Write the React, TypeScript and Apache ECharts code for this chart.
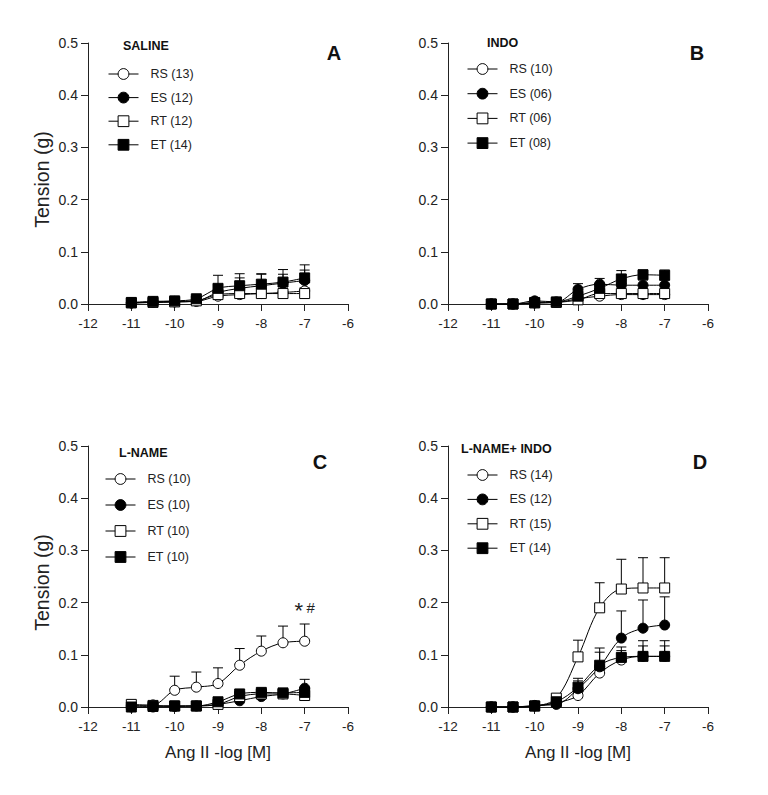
import React, { useEffect, useRef } from 'react';
import * as echarts from 'echarts';

// Ang II concentrations (-log M)
const doses = [-11, -10.5, -10, -9.5, -9, -8.5, -8, -7.5, -7];

// Panel A: SALINE
const salineRS = [0.002, 0.003, 0.004, 0.005, 0.015, 0.018, 0.02, 0.022, 0.025];
const salineRSErr = [0.001, 0.001, 0.001, 0.002, 0.005, 0.006, 0.006, 0.006, 0.006];
const salineES = [0.002, 0.004, 0.005, 0.006, 0.022, 0.03, 0.035, 0.04, 0.045];
const salineESErr = [0.001, 0.001, 0.001, 0.002, 0.01, 0.02, 0.022, 0.017, 0.02];
const salineRT = [0.002, 0.003, 0.004, 0.006, 0.018, 0.02, 0.02, 0.02, 0.02];
const salineRTErr = [0.001, 0.001, 0.001, 0.002, 0.004, 0.005, 0.005, 0.005, 0.005];
const salineET = [0.003, 0.005, 0.006, 0.01, 0.03, 0.035, 0.038, 0.042, 0.05];
const salineETErr = [0.001, 0.001, 0.002, 0.004, 0.025, 0.023, 0.02, 0.024, 0.025];

// Panel B: INDO
const indoRS = [0, 0, 0.002, 0.003, 0.01, 0.015, 0.018, 0.018, 0.018];
const indoRSErr = [0, 0, 0.001, 0.001, 0.004, 0.005, 0.005, 0.005, 0.005];
const indoES = [0, 0, 0.006, 0.004, 0.028, 0.038, 0.036, 0.036, 0.036];
const indoESErr = [0, 0, 0.002, 0.002, 0.011, 0.011, 0.01, 0.01, 0.01];
const indoRT = [0, 0, 0.002, 0.003, 0.008, 0.02, 0.02, 0.02, 0.02];
const indoRTErr = [0, 0, 0.001, 0.001, 0.003, 0.004, 0.004, 0.004, 0.004];
const indoET = [0, 0, 0.003, 0.004, 0.015, 0.03, 0.048, 0.056, 0.055];
const indoETErr = [0, 0, 0.001, 0.002, 0.006, 0.01, 0.016, 0.009, 0.01];

// Panel C: L-NAME
const lnameRS = [0.003, 0.004, 0.032, 0.038, 0.045, 0.08, 0.107, 0.123, 0.126];
const lnameRSErr = [0.002, 0.002, 0.027, 0.029, 0.03, 0.032, 0.029, 0.032, 0.033];
const lnameES = [0, 0, 0.001, 0.002, 0.005, 0.012, 0.02, 0.025, 0.036];
const lnameESErr = [0, 0, 0, 0, 0.003, 0.006, 0.006, 0.008, 0.017];
const lnameRT = [0.005, 0.003, 0.002, 0.002, 0.005, 0.02, 0.025, 0.025, 0.022];
const lnameRTErr = [0.001, 0.001, 0.001, 0.001, 0.002, 0.004, 0.004, 0.004, 0.004];
const lnameET = [0, 0.001, 0.002, 0.002, 0.01, 0.025, 0.028, 0.027, 0.028];
const lnameETErr = [0, 0, 0, 0, 0.003, 0.005, 0.005, 0.005, 0.005];

// Panel D: L-NAME + INDO
const lnameIndoRS = [0, 0, 0.002, 0.008, 0.022, 0.065, 0.09, 0.097, 0.097];
const lnameIndoRSErr = [0, 0, 0.001, 0.003, 0.01, 0.015, 0.018, 0.02, 0.02];
const lnameIndoES = [0, 0, 0.003, 0.005, 0.035, 0.077, 0.132, 0.151, 0.157];
const lnameIndoESErr = [0, 0, 0.002, 0.004, 0.02, 0.028, 0.052, 0.054, 0.054];
const lnameIndoRT = [0, 0, 0.002, 0.017, 0.096, 0.19, 0.226, 0.228, 0.228];
const lnameIndoRTErr = [0, 0, 0.002, 0.005, 0.032, 0.048, 0.057, 0.058, 0.058];
const lnameIndoET = [0, 0, 0.002, 0.01, 0.038, 0.08, 0.095, 0.097, 0.097];
const lnameIndoETErr = [0, 0, 0.001, 0.004, 0.012, 0.033, 0.02, 0.03, 0.03];

const panelTitles = ['SALINE', 'INDO', 'L-NAME', 'L-NAME+ INDO'];
const panelLetters = ['A', 'B', 'C', 'D'];
const groupKeys = ['RS', 'ES', 'RT', 'ET'];
const groupCounts = [
  ['13', '12', '12', '14'],
  ['10', '06', '06', '08'],
  ['10', '10', '10', '10'],
  ['14', '12', '15', '14'],
];
const panelValues = [
  [salineRS, salineES, salineRT, salineET],
  [indoRS, indoES, indoRT, indoET],
  [lnameRS, lnameES, lnameRT, lnameET],
  [lnameIndoRS, lnameIndoES, lnameIndoRT, lnameIndoET],
];
const panelErrors = [
  [salineRSErr, salineESErr, salineRTErr, salineETErr],
  [indoRSErr, indoESErr, indoRTErr, indoETErr],
  [lnameRSErr, lnameESErr, lnameRTErr, lnameETErr],
  [lnameIndoRSErr, lnameIndoESErr, lnameIndoRTErr, lnameIndoETErr],
];
const yTickLabels = ['0.0', '0.1', '0.2', '0.3', '0.4', '0.5'];
const xAxisTitle = 'Ang II -log [M]';
const yAxisTitle = 'Tension (g)';

// layout
const grids = [
  { left: 88, top: 43, width: 260, height: 261 },
  { left: 448, top: 43, width: 260, height: 261 },
  { left: 88, top: 446, width: 260, height: 261 },
  { left: 448, top: 446, width: 260, height: 261 },
];
const legendPos = [
  { left: 103, top: 62, gap: 9.6 },
  { left: 462, top: 57, gap: 10.7 },
  { left: 100, top: 467, gap: 12 },
  { left: 462, top: 463, gap: 10.4 },
];
const titlePos = [
  { x: 123, y: 46 },
  { x: 487, y: 43 },
  { x: 119, y: 453 },
  { x: 461, y: 449 },
];
const letterPos = [
  { x: 334, y: 53 },
  { x: 697, y: 53 },
  { x: 320, y: 462 },
  { x: 700, y: 462 },
];

const symbolFor = (k: string) => (k === 'RS' || k === 'ES' ? 'circle' : 'rect');
const fillFor = (k: string) => (k === 'RS' || k === 'RT' ? '#ffffff' : '#000000');

export default function App() {
  const ref = useRef<HTMLDivElement>(null);
  useEffect(() => {
    if (!ref.current) return;
    const chart = echarts.init(ref.current, undefined, { renderer: 'svg' });
    const font = 'Arial, "Liberation Sans", Helvetica, sans-serif';
    const axisColor = '#222';

    const xAxes: any[] = [];
    const yAxes: any[] = [];
    const series: any[] = [];
    const legends: any[] = [];
    const graphics: any[] = [];

    grids.forEach((g, p) => {
      xAxes.push({
        type: 'value', gridIndex: p, min: -12, max: -6, interval: 1,
        name: p >= 2 ? xAxisTitle : '', nameLocation: 'middle', nameGap: 37,
        nameTextStyle: { fontSize: 17, color: '#222', fontFamily: font },
        axisLine: { onZero: false, lineStyle: { color: axisColor, width: 1 } },
        axisTick: { show: true, length: 7, lineStyle: { color: axisColor } },
        axisLabel: { fontSize: 13.5, color: '#222', margin: 12, fontFamily: font },
        splitLine: { show: false },
      });
      yAxes.push({
        type: 'value', gridIndex: p, min: 0, max: 0.5, interval: 0.1,
        axisLine: { show: true, onZero: false, lineStyle: { color: axisColor, width: 1 } },
        axisTick: { show: true, length: 7, lineStyle: { color: axisColor } },
        axisLabel: {
          fontSize: 14, color: '#222', margin: 10, fontFamily: font,
          formatter: (v: number) => yTickLabels[Math.round(v * 10)] ?? '',
        },
        splitLine: { show: false },
      });

      const names: string[] = [];
      groupKeys.forEach((k, s) => {
        const name = `${k} (${groupCounts[p][s]})`;
        names.push(name);
        const vals = panelValues[p][s];
        const errs = panelErrors[p][s];
        // error bars (upward)
        series.push({
          type: 'custom', name: `${name} err ${p}`, xAxisIndex: p, yAxisIndex: p,
          z: 1, silent: true, clip: false,
          data: doses.map((d, i) => [d, vals[i], errs[i]]),
          renderItem: (_params: any, api: any) => {
            const x = api.value(0), y = api.value(1), e = api.value(2);
            const p0 = api.coord([x, y]);
            const p1 = api.coord([x, y + e]);
            return {
              type: 'group',
              children: [
                { type: 'line', shape: { x1: p0[0], y1: p0[1], x2: p1[0], y2: p1[1] }, style: { stroke: '#000', lineWidth: 1 } },
                { type: 'line', shape: { x1: p1[0] - 5, y1: p1[1], x2: p1[0] + 5, y2: p1[1] }, style: { stroke: '#000', lineWidth: 1 } },
              ],
            };
          },
        });
        const lineSeries: any = {
          type: 'line', name, xAxisIndex: p, yAxisIndex: p, z: 3,
          data: doses.map((d, i) => [d, vals[i]]),
          smooth: 0.35, clip: false,
          symbol: symbolFor(k), symbolSize: 10, showAllSymbol: true,
          lineStyle: { color: '#000', width: 1 },
          itemStyle: { color: fillFor(k), borderColor: '#000', borderWidth: 1, opacity: 1 },
          emphasis: { disabled: true },
        };
        if (p === 2 && k === 'RS') {
          lineSeries.markPoint = {
            symbol: 'circle', symbolSize: 1, silent: true,
            itemStyle: { color: 'rgba(0,0,0,0)' },
            data: [{ coord: [-7, 0.19] }],
            label: {
              show: true, position: 'inside', formatter: '{a|*} {b|#}',
              rich: {
                a: { fontSize: 22, color: '#222', fontFamily: font, padding: [6, 0, 0, 0] },
                b: { fontSize: 15, color: '#222', fontFamily: font },
              },
            },
          };
        }
        series.push(lineSeries);
      });

      legends.push({
        orient: 'vertical', left: legendPos[p].left, top: legendPos[p].top,
        itemWidth: 30, itemHeight: 13.5, itemGap: legendPos[p].gap,
        selectedMode: false, data: names,
        itemStyle: { borderWidth: 1, borderColor: '#000' },
        lineStyle: { width: 1, color: '#000' },
        textStyle: { fontSize: 12.5, color: '#222', fontFamily: font, lineHeight: 14, padding: [0, 0, 0, 7] },
      });

      graphics.push({
        type: 'text', left: titlePos[p].x, top: titlePos[p].y - 7,
        style: { text: panelTitles[p], font: `bold 12.5px ${font}`, fill: '#111' },
      });
      graphics.push({
        type: 'text', x: letterPos[p].x, y: letterPos[p].y,
        style: { text: panelLetters[p], font: `bold 20px ${font}`, fill: '#111', align: 'center', verticalAlign: 'middle' },
      });
      if (p === 0 || p === 2) {
        graphics.push({
          type: 'text', x: 42, y: g.top + g.height / 2 + 6, rotation: Math.PI / 2,
          style: { text: yAxisTitle, font: `19.5px ${font}`, fill: '#222', align: 'center', verticalAlign: 'middle' },
        });
      }
    });

    chart.setOption({
      animation: false,
      backgroundColor: '#ffffff',
      grid: grids.map((g) => ({ ...g, containLabel: false })),
      xAxis: xAxes,
      yAxis: yAxes,
      legend: legends,
      series,
      graphic: graphics,
    });
    return () => chart.dispose();
  }, []);
  return <div ref={ref} style={{ position: 'fixed', left: 0, top: 0, width: 768, height: 795, background: '#fff' }} />;
}
